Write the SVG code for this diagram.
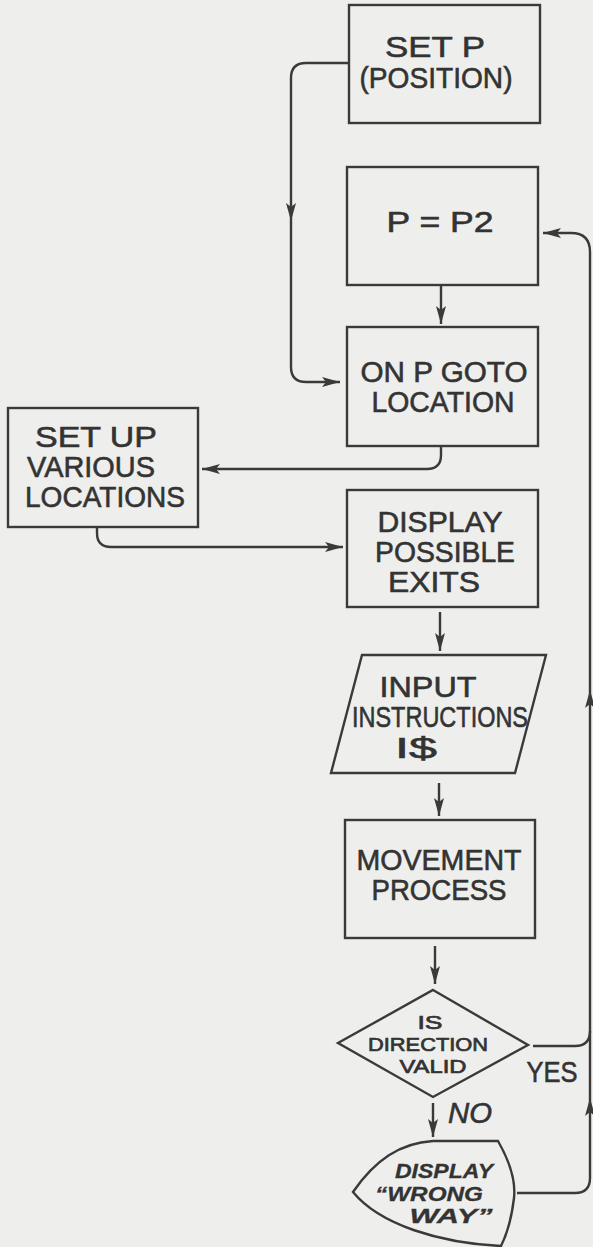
<svg xmlns="http://www.w3.org/2000/svg" width="593" height="1247" viewBox="0 0 593 1247">
<style>
.bg{fill:#eeeeec}
.box{fill:none;stroke:#3a3a3a;stroke-width:2.4}
.ln{fill:none;stroke:#3a3a3a;stroke-width:2.4}
.t{font-family:"Liberation Sans",Arial,sans-serif;font-size:30px;fill:#333;stroke:#333;stroke-width:0.6;text-anchor:middle}
.s{font-size:19px;stroke-width:0.7}
.i{font-style:italic;font-size:21px;font-weight:bold;stroke-width:0.3}
</style>
<defs>
<marker id="ah" viewBox="0 0 18 10" refX="18" refY="5" markerWidth="18" markerHeight="10" markerUnits="userSpaceOnUse" orient="auto">
<path d="M0,0 L18,5 L0,10 L4,5 z" fill="#3a3a3a"/>
</marker>
</defs>
<rect class="bg" x="0" y="0" width="593" height="1247"/>
<g id="connectors">
<path class="ln" d="M349,63 H306 Q291,63 291,78 V221" marker-end="url(#ah)"/>
<path class="ln" d="M291,221 V367 Q291,382 306,382 H340" marker-end="url(#ah)"/>
<path class="ln" d="M441,286 V324" marker-end="url(#ah)"/>
<path class="ln" d="M441,446 V455 Q441,469 427,469 H202" marker-end="url(#ah)"/>
<path class="ln" d="M97,527 V533 Q97,547 111,547 H343" marker-end="url(#ah)"/>
<path class="ln" d="M440,612 V651" marker-end="url(#ah)"/>
<path class="ln" d="M439,783 V816" marker-end="url(#ah)"/>
<path class="ln" d="M435,946 V984" marker-end="url(#ah)"/>
<path class="ln" d="M433,1103 V1137" marker-end="url(#ah)"/>
<path class="ln" d="M533,1046 H575 Q590,1046 590,1031"/>
<path class="ln" d="M517,1193 H575 Q590,1193 590,1178 V1098" marker-end="url(#ah)"/>
<path class="ln" d="M590,1098 V690" marker-end="url(#ah)"/>
<path class="ln" d="M590,690 V252 Q590,233 571,233 H543" marker-end="url(#ah)"/>
</g>
<g id="set-p">
<rect class="box" x="349" y="5" width="191" height="118"/>
<text class="t" x="435" y="57" textLength="100" lengthAdjust="spacingAndGlyphs">SET P</text>
<text class="t" x="436" y="88" textLength="153" lengthAdjust="spacingAndGlyphs">(POSITION)</text>
</g>
<g id="p-eq-p2">
<rect class="box" x="347" y="167" width="191" height="118"/>
<text class="t" x="440" y="232" font-size="31" textLength="107" lengthAdjust="spacingAndGlyphs">P = P2</text>
</g>
<g id="on-p-goto">
<rect class="box" x="347" y="327" width="191" height="119"/>
<text class="t" x="444" y="382" textLength="167" lengthAdjust="spacingAndGlyphs">ON P GOTO</text>
<text class="t" x="443" y="412" textLength="143" lengthAdjust="spacingAndGlyphs">LOCATION</text>
</g>
<g id="set-up">
<rect class="box" x="8" y="408" width="190" height="119"/>
<text class="t" x="96" y="447" textLength="122" lengthAdjust="spacingAndGlyphs">SET UP</text>
<text class="t" x="91" y="477" textLength="128" lengthAdjust="spacingAndGlyphs">VARIOUS</text>
<text class="t" x="105" y="507" textLength="160" lengthAdjust="spacingAndGlyphs">LOCATIONS</text>
</g>
<g id="display-exits">
<rect class="box" x="347" y="490" width="191" height="117"/>
<text class="t" x="440" y="532" textLength="125" lengthAdjust="spacingAndGlyphs">DISPLAY</text>
<text class="t" x="445" y="562" textLength="140" lengthAdjust="spacingAndGlyphs">POSSIBLE</text>
<text class="t" x="434" y="592" textLength="92" lengthAdjust="spacingAndGlyphs">EXITS</text>
</g>
<g id="input">
<path class="box" d="M362,655 H546 L515,773 H331 Z"/>
<text class="t" x="428" y="697" textLength="97" lengthAdjust="spacingAndGlyphs">INPUT</text>
<text class="t" x="440" y="727" textLength="176" lengthAdjust="spacingAndGlyphs">INSTRUCTIONS</text>
<text class="t" x="416" y="758" textLength="42" lengthAdjust="spacingAndGlyphs">I$</text>
</g>
<g id="movement">
<rect class="box" x="345" y="820" width="190" height="118"/>
<text class="t" x="439" y="870" textLength="165" lengthAdjust="spacingAndGlyphs">MOVEMENT</text>
<text class="t" x="439" y="900" textLength="135" lengthAdjust="spacingAndGlyphs">PROCESS</text>
</g>
<g id="decision">
<path class="box" d="M433,990 L528,1045 L433,1097 L338,1043 Z"/>
<text class="t s" x="430" y="1029" textLength="25" lengthAdjust="spacingAndGlyphs">IS</text>
<text class="t s" x="428" y="1051" textLength="120" lengthAdjust="spacingAndGlyphs">DIRECTION</text>
<text class="t s" x="433" y="1073" textLength="67" lengthAdjust="spacingAndGlyphs">VALID</text>
</g>
<g id="labels">
<text class="t" x="552" y="1082" font-size="27" textLength="51" lengthAdjust="spacingAndGlyphs">YES</text>
<text class="t" x="470" y="1123" font-size="25" font-style="italic" textLength="44" lengthAdjust="spacingAndGlyphs">NO</text>
</g>
<g id="wrong-way">
<path class="box" d="M433,1141 L498,1141 C510,1162 516,1180 514,1198 C512,1215 508,1232 501,1246 C440,1243 380,1225 353,1192 C375,1160 400,1143 433,1141 Z"/>
<text class="t i" x="444" y="1178" textLength="98" lengthAdjust="spacingAndGlyphs">DISPLAY</text>
<text class="t i" x="429" y="1201" textLength="108" lengthAdjust="spacingAndGlyphs">“WRONG</text>
<text class="t i" x="451" y="1223" textLength="83" lengthAdjust="spacingAndGlyphs">WAY”</text>
</g>
</svg>
